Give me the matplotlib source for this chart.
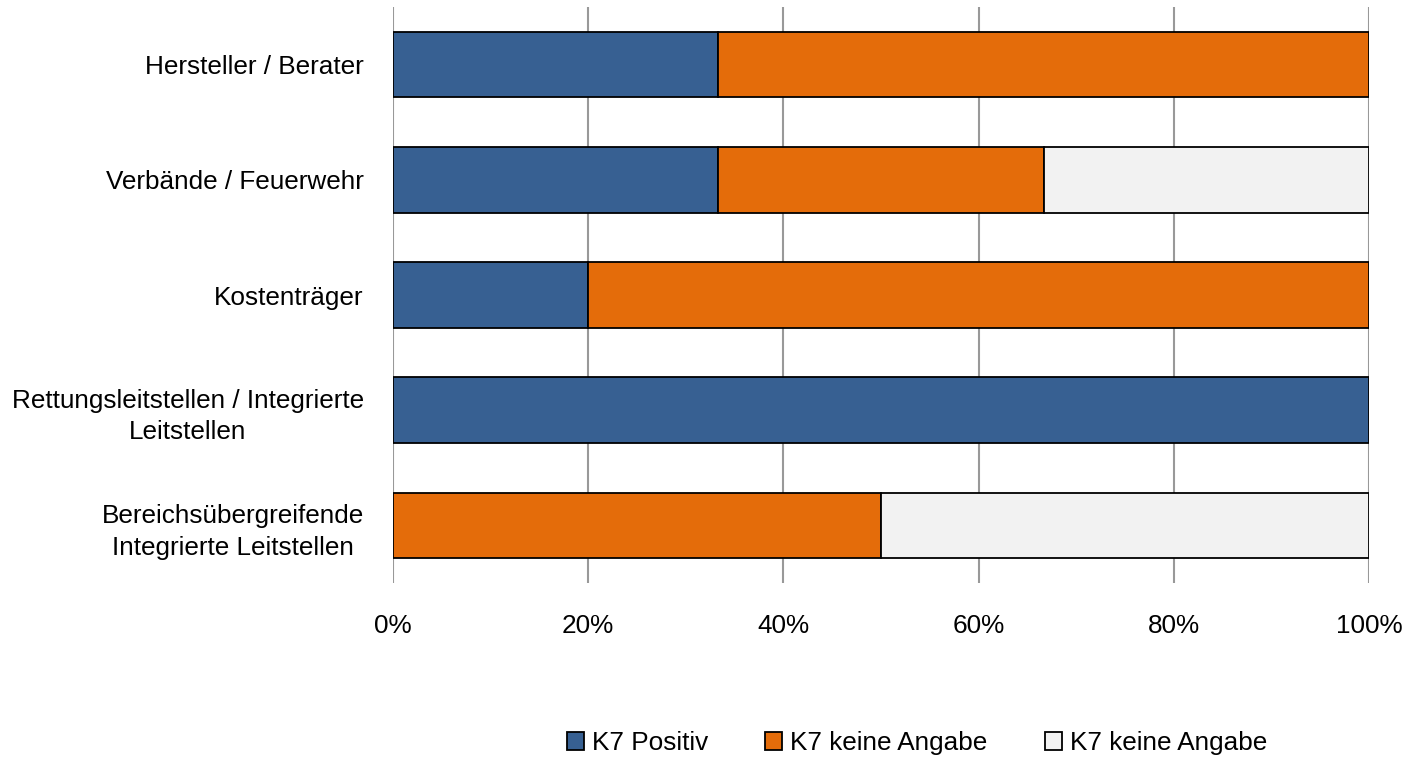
import matplotlib
matplotlib.use("Agg")
import matplotlib.pyplot as plt
import numpy as np
from matplotlib.patches import Patch

plt.rcParams['font.family'] = ['Liberation Sans', 'DejaVu Sans']

categories = [
    "Hersteller / Berater",
    "Verbände / Feuerwehr",
    "Kostenträger",
    "Rettungsleitstellen / Integrierte\nLeitstellen",
    "Bereichsübergreifende\nIntegrierte Leitstellen",
]
series_names = ["K7 Positiv", "K7 keine Angabe", "K7 keine Angabe"]
positiv = [33.33, 33.33, 20.0, 100.0, 0.0]
keine_angabe_1 = [66.67, 33.33, 80.0, 0.0, 50.0]
keine_angabe_2 = [0.0, 33.34, 0.0, 0.0, 50.0]
x_ticks = [0, 20, 40, 60, 80, 100]
x_tick_labels = ["0%", "20%", "40%", "60%", "80%", "100%"]

colors = ["#376092", "#E46C0A", "#F2F2F2"]

fig = plt.figure(figsize=(14.05, 7.6), dpi=100)
ax = fig.add_axes([393/1405, 1 - 583/760, (1369 - 393)/1405, (583 - 7)/760])

y = np.arange(len(categories))
left = np.zeros(len(categories))
handles = []
for vals, name, col in zip([positiv, keine_angabe_1, keine_angabe_2], series_names, colors):
    vals = np.array(vals)
    mask = vals > 0
    ax.barh(y[mask], vals[mask], left=left[mask], height=0.57, color=col,
            edgecolor="black", linewidth=1.3, zorder=3)
    left = left + vals
    handles.append(Patch(facecolor=col, edgecolor="black", linewidth=1.3, label=name))

ax.set_xlim(0, 100)
ax.set_ylim(len(categories) - 0.5, -0.5)
ax.set_yticks(y)
ax.set_yticklabels(categories, fontsize=18.8, multialignment="center", linespacing=1.4)
ax.set_xticks(x_ticks)
ax.set_xticklabels(x_tick_labels, fontsize=18.8)
ax.tick_params(axis="y", length=0, pad=21)
ax.tick_params(axis="x", length=0, pad=22)
ax.xaxis.grid(True, color="#999999", linewidth=1.5, zorder=0)
for s in ax.spines.values():
    s.set_visible(False)

fig.legend(handles=handles, loc="center", bbox_to_anchor=(917/1405, 1 - 743/760),
           ncol=3, frameon=False, fontsize=18.8, handlelength=0.65, handleheight=0.65,
           handletextpad=0.3, columnspacing=2.2)

fig.savefig("out.png", dpi=100)
